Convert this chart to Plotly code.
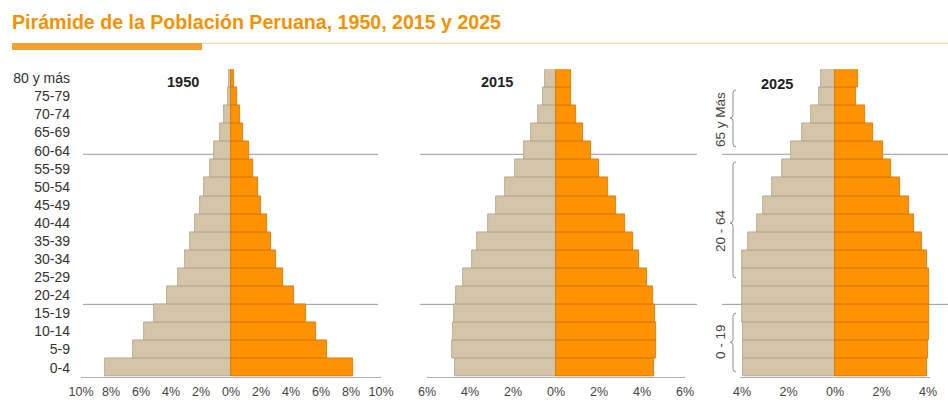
import plotly.graph_objects as go

# Age groups, bottom to top
age_groups = ["0-4", "5-9", "10-14", "15-19", "20-24", "25-29", "30-34", "35-39",
              "40-44", "45-49", "50-54", "55-59", "60-64", "65-69", "70-74",
              "75-79", "80 y más"]

# Share of total population (%) by sex
hombres_1950 = [8.40, 6.53, 5.80, 5.13, 4.27, 3.53, 3.07, 2.73, 2.40, 2.07,
                1.80, 1.40, 1.13, 0.73, 0.47, 0.22, 0.13]
mujeres_1950 = [8.16, 6.38, 5.64, 4.98, 4.20, 3.49, 2.98, 2.67, 2.38, 2.00,
                1.78, 1.49, 1.20, 0.82, 0.60, 0.38, 0.22]

hombres_2015 = [4.72, 4.83, 4.80, 4.75, 4.63, 4.33, 3.93, 3.67, 3.17, 2.77,
                2.35, 1.92, 1.50, 1.14, 0.83, 0.60, 0.49]
mujeres_2015 = [4.55, 4.66, 4.63, 4.60, 4.49, 4.24, 3.87, 3.60, 3.20, 2.78,
                2.43, 2.00, 1.62, 1.26, 0.94, 0.72, 0.71]

hombres_2025 = [3.95, 3.96, 3.97, 3.98, 4.00, 4.00, 3.99, 3.73, 3.35, 3.10,
                2.70, 2.27, 1.88, 1.44, 1.05, 0.67, 0.62]
mujeres_2025 = [3.95, 3.98, 4.05, 4.06, 4.06, 4.06, 3.96, 3.75, 3.39, 3.17,
                2.79, 2.42, 2.06, 1.63, 1.27, 0.91, 0.98]

years = ["1950", "2015", "2025"]
x_ticks = [[-10, -8, -6, -4, -2, 0, 2, 4, 6, 8, 10],
           [-6, -4, -2, 0, 2, 4, 6],
           [-4, -2, 0, 2, 4]]
broad_groups = ["65 y Más", "20 - 64", "0 - 19"]

W, H = 948, 402
BEIGE, BEIGE_EDGE = "#D4C5A8", "#AE9F84"
ORANGE, ORANGE_EDGE = "#FF9200", "#D07400"
FONT = "Liberation Sans, Arial, sans-serif"


def px_x(p):
    return p / W


def px_y(p):
    return 1 - p / H


fig = go.Figure()

series = [(hombres_1950, mujeres_1950), (hombres_2015, mujeres_2015),
          (hombres_2025, mujeres_2025)]
for i, (men, women) in enumerate(series):
    xa = "x" if i == 0 else f"x{i + 1}"
    fig.add_trace(go.Bar(
        y=age_groups, x=[-v for v in men], orientation="h", xaxis=xa, yaxis="y",
        name="Hombres", marker=dict(color=BEIGE, line=dict(color=BEIGE_EDGE, width=0.8)),
        customdata=men, hovertemplate="Hombres %{y}: %{customdata}%<extra>" + years[i] + "</extra>"))
    fig.add_trace(go.Bar(
        y=age_groups, x=women, orientation="h", xaxis=xa, yaxis="y",
        name="Mujeres", marker=dict(color=ORANGE, line=dict(color=ORANGE_EDGE, width=0.8)),
        hovertemplate="Mujeres %{y}: %{x}%<extra>" + years[i] + "</extra>"))

# Panel placement (pixel extents of each x axis) and value ranges
panel_px = [(81, 381), (427, 685), (740, 930)]
panel_range = [(-10, 10), (-6, 6), (-4.086, 4.086)]

axis_common = dict(showgrid=False, zeroline=False, showline=True, linecolor="#B0B0B0",
                   linewidth=1, ticks="", tickfont=dict(family=FONT, size=12.5, color="#444"),
                   fixedrange=True, anchor="y", automargin=False)
layout_axes = {}
for i in range(3):
    key = "xaxis" if i == 0 else f"xaxis{i + 1}"
    layout_axes[key] = dict(
        axis_common,
        domain=[px_x(panel_px[i][0]), px_x(panel_px[i][1])],
        range=list(panel_range[i]),
        tickvals=x_ticks[i],
        ticktext=[f"{abs(t)}%" for t in x_ticks[i]],
        ticklabelstandoff=3,
    )

y_bottom_px, y_top_px = 376.7, 69.3
fig.update_layout(
    width=W, height=H,
    margin=dict(l=0, r=0, t=0, b=0),
    paper_bgcolor="white", plot_bgcolor="rgba(0,0,0,0)",
    showlegend=False, barmode="relative", bargap=0,
    yaxis=dict(domain=[px_y(y_bottom_px), px_y(y_top_px)], range=[-0.5, 16.5],
               type="category", categoryorder="array", categoryarray=age_groups,
               tickmode="linear", tick0=0, dtick=1,
               showgrid=False, zeroline=False, showline=False, ticks="",
               tickfont=dict(family=FONT, size=14, color="#333"),
               ticklabelstandoff=10, anchor="x", fixedrange=True, automargin=False),
    **layout_axes,
)

shapes = []
# Title underline: thick accent bar plus thin rule
shapes.append(dict(type="rect", xref="paper", yref="paper",
                   x0=px_x(12), x1=px_x(202), y0=px_y(50), y1=px_y(43),
                   fillcolor="#F7A030", line=dict(width=0)))
shapes.append(dict(type="line", xref="paper", yref="paper",
                   x0=px_x(202), x1=1, y0=px_y(43.2), y1=px_y(43.2),
                   line=dict(color="#F8C98C", width=1)))

# Horizontal guide lines across each panel (age-band separators)
guide_levels = [11.8, 3.5]
guide_px = [(83, 378), (420, 697), (722, 948)]
for x0, x1 in guide_px:
    for lvl in guide_levels:
        shapes.append(dict(type="line", xref="paper", yref="y", layer="below",
                           x0=px_x(x0), x1=px_x(x1), y0=lvl, y1=lvl,
                           line=dict(color="#9A9A9A", width=1)))

# Curly braces for broad age groups in the 2025 panel
brace_spans = [(12.2, 15.36, 13.8), (4.96, 11.38, 8.0), (-0.24, 3.02, 1.4)]
for lo, hi, mid in brace_spans:
    c = 0.18
    path = (f"M 3,{hi} Q 0,{hi} 0,{hi - c} L 0,{mid + c} Q 0,{mid} -3,{mid} "
            f"Q 0,{mid} 0,{mid - c} L 0,{lo + c} Q 0,{lo} 3,{lo}")
    shapes.append(dict(type="path", xref="paper", yref="y", xsizemode="pixel",
                       xanchor=px_x(733), path=path,
                       line=dict(color="#8C8C8C", width=1)))

fig.update_layout(shapes=shapes)

annotations = [dict(
    text="Pirámide de la Población Peruana, 1950, 2015 y 2025",
    xref="paper", yref="paper", x=px_x(10), y=px_y(22), xanchor="left", yanchor="middle",
    showarrow=False, font=dict(family=FONT, size=19.6, color="#F39200", weight="bold"))]

year_pos = [(183, 82), (497, 82), (777, 84)]
for yr, (px, py) in zip(years, year_pos):
    annotations.append(dict(text=yr, xref="paper", yref="paper", x=px_x(px), y=px_y(py),
                            xanchor="center", yanchor="middle", showarrow=False,
                            font=dict(family=FONT, size=14.5, color="#222", weight="bold")))

label_levels = [13.7, 7.56, 1.42]
for txt, lvl in zip(broad_groups, label_levels):
    annotations.append(dict(text=txt, xref="paper", yref="y", x=px_x(721), y=lvl,
                            xanchor="center", yanchor="middle", textangle=-90,
                            showarrow=False, font=dict(family=FONT, size=13.5, color="#444")))

fig.update_layout(annotations=annotations)

fig.write_html("out.html")
